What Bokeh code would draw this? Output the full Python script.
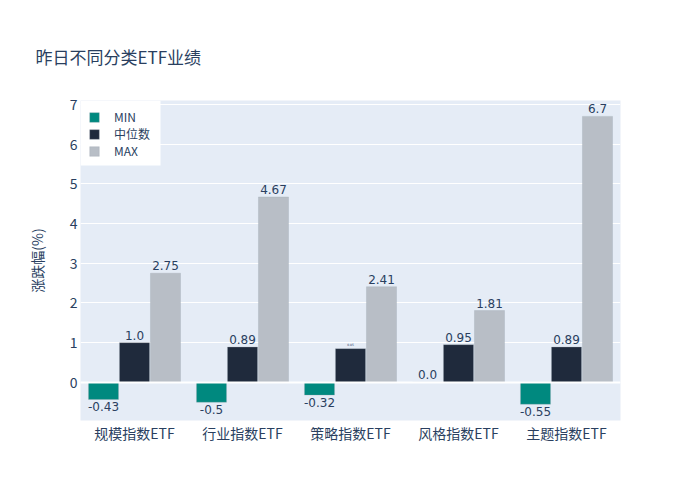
from bokeh.plotting import figure
from bokeh.models import ColumnDataSource, Legend, LegendItem, Span, LabelSet, FixedTicker, BoxAnnotation
from bokeh.transform import dodge
from bokeh.embed import file_html
from bokeh.resources import INLINE
from bokeh.core.properties import value

categories = ["规模指数ETF", "行业指数ETF", "策略指数ETF", "风格指数ETF", "主题指数ETF"]
min_vals = [-0.43, -0.5, -0.32, 0.0, -0.55]
med_vals = [1.0, 0.89, 0.85, 0.95, 0.89]
max_vals = [2.75, 4.67, 2.41, 1.81, 6.7]
med_labels = ["1.0", "0.89", "0.85", "0.95", "0.89"]
min_labels = ["-0.43", "-0.5", "-0.32", "0.0", "-0.55"]
max_labels = ["2.75", "4.67", "2.41", "1.81", "6.7"]
series_names = ["MIN", "中位数", "MAX"]
colors = ["#00897F", "#1F2A3C", "#B8BEC6"]

FONT = "Noto Sans CJK SC"
TXT = "#2a3f5f"

p = figure(x_range=categories, y_range=(-0.96, 7.1), width=684, height=484,
           output_backend="svg", toolbar_location=None,
           min_border_left=80, min_border_right=64, min_border_top=100, min_border_bottom=64)

p.background_fill_color = "#E5ECF6"
p.border_fill_color = "white"
p.outline_line_color = None

offsets = [-0.287, 0.0, 0.287]
bw = 0.278
src = ColumnDataSource(dict(cat=categories, mn=min_vals, md=med_vals, mx=max_vals))

renderers = []
for key, off, col in zip(["mn", "md", "mx"], offsets, colors):
    r = p.vbar(x=dodge("cat", off, range=p.x_range), top=key, bottom=0, width=bw,
               source=src, fill_color=col, line_color="#9aa3ae", line_width=0.5, line_alpha=0.6)
    renderers.append(r)

zero = Span(location=0, dimension="width", line_color="white", line_width=2)
p.add_layout(zero)

def add_labels(cats, ys, texts, off, below, size="12px"):
    ls = LabelSet(x=dodge("cat", off, range=p.x_range), y="y", text="t",
                  source=ColumnDataSource(dict(cat=cats, y=ys, t=texts)),
                  text_align="center", text_baseline="top" if below else "bottom",
                  y_offset=-3 if below else 3,
                  text_font_size=size, text_color=TXT, text_font=value("DejaVu Sans"))
    p.add_layout(ls)

neg = [i for i, v in enumerate(min_vals) if v < 0]
pos = [i for i, v in enumerate(min_vals) if v >= 0]
add_labels([categories[i] for i in neg], [min_vals[i] for i in neg], [min_labels[i] for i in neg], offsets[0], True)
add_labels([categories[i] for i in pos], [min_vals[i] for i in pos], [min_labels[i] for i in pos], offsets[0], False)

norm_idx = [i for i in range(5) if i != 2]
add_labels([categories[i] for i in norm_idx], [med_vals[i] for i in norm_idx],
           [med_labels[i] for i in norm_idx], offsets[1], False)
add_labels([categories[2]], [med_vals[2]], [med_labels[2]], offsets[1], False, size="3px")

add_labels(categories, max_vals, max_labels, offsets[2], False)

# grid & axes
p.xgrid.grid_line_color = None
p.ygrid.grid_line_color = "white"
p.ygrid.grid_line_width = 1
p.yaxis.ticker = FixedTicker(ticks=[0, 1, 2, 3, 4, 5, 6, 7])
p.yaxis.axis_line_color = None
p.yaxis.major_tick_line_color = None
p.yaxis.minor_tick_line_color = None
p.yaxis.major_tick_out = 0
p.yaxis.major_tick_in = 0
p.yaxis.major_label_text_font_size = "14px"
p.yaxis.major_label_text_color = TXT
p.yaxis.major_label_text_font = FONT
p.yaxis.major_label_standoff = 3
p.yaxis.axis_label = "涨跌幅(%)"
p.yaxis.axis_label_text_font = FONT
p.yaxis.axis_label_text_font_size = "14px"
p.yaxis.axis_label_text_font_style = "normal"
p.yaxis.axis_label_text_color = TXT
p.yaxis.axis_label_standoff = 20

p.xaxis.axis_line_color = None
p.xaxis.major_tick_line_color = None
p.xaxis.minor_tick_line_color = None
p.xaxis.major_tick_out = 0
p.xaxis.major_tick_in = 0
p.xaxis.major_label_text_font_size = "14px"
p.xaxis.major_label_text_color = TXT
p.xaxis.major_label_text_font = FONT
p.xaxis.major_label_standoff = 2

# title
p.title.text = "昨日不同分类ETF业绩"
p.title.text_font = FONT
p.title.text_font_size = "17px"
p.title.text_font_style = "normal"
p.title.text_color = TXT
p.title.align = "left"
p.title.offset = -45
p.title.standoff = 64

# legend background box (frame-relative screen units)
legend_bg = BoxAnnotation(left=0, right=80, top=320, bottom=255,
                          left_units="screen", right_units="screen",
                          top_units="screen", bottom_units="screen",
                          fill_color="white", fill_alpha=1.0, line_color=None)
p.add_layout(legend_bg)

legend = Legend(items=[LegendItem(label=n, renderers=[r]) for n, r in zip(series_names, renderers)],
                location="top_left")
legend.margin = 8
legend.padding = 4
legend.spacing = 0
legend.glyph_width = 12
legend.glyph_height = 12
legend.label_height = 15
legend.label_standoff = 14
legend.label_width = 30
legend.label_text_font_size = "12px"
legend.label_text_font = FONT
legend.label_text_color = TXT
legend.label_text_line_height = 1.0
legend.border_line_color = None
legend.background_fill_alpha = 0.0
p.add_layout(legend)

open("out.html", "w").write(file_html(p, INLINE))
